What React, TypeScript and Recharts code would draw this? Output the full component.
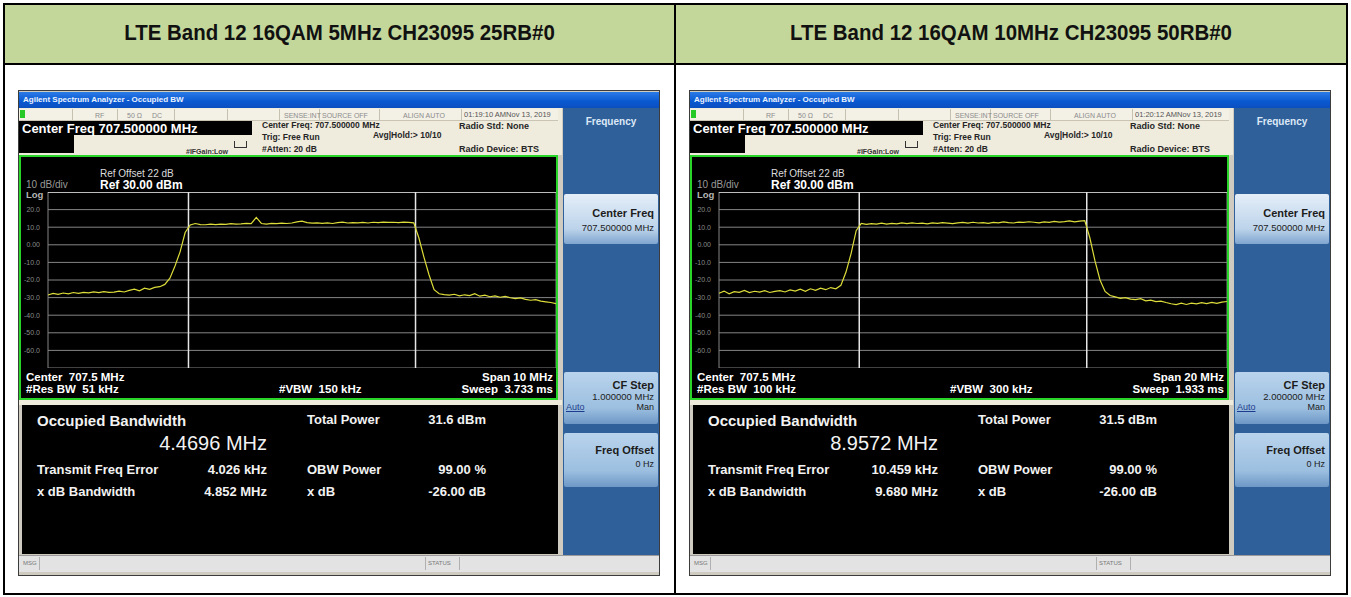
import React from "react";
import {
  LineChart,
  Line,
  XAxis,
  YAxis,
  CartesianGrid,
  ReferenceLine,
} from "recharts";

const headerTitles = [
  "LTE Band 12 16QAM 5MHz CH23095 25RB#0",
  "LTE Band 12 16QAM 10MHz CH23095 50RB#0",
];

// trace points, dBm, left edge to right edge of the span
const trace5MHz = [
  -28.5, -27.6, -28.2, -27.4, -27.9, -27.1, -27.6, -27.0, -27.3, -26.8,
  -27.2, -26.6, -27.0, -26.9, -26.3, -26.8, -25.9, -25.2, -26.1, -24.6,
  -25.3, -24.2, -23.8, -22.5, -19.0, -12.0, -4.0, 7.0, 11.3, 12.1,
  11.5, 11.4, 11.7, 11.5, 11.8, 11.6, 12.0, 11.7, 11.9, 12.2,
  12.0, 15.6, 12.1, 11.8, 12.2, 12.0, 12.3, 12.1, 12.4, 13.0,
  13.4, 12.6, 12.3, 12.5, 12.2, 12.4, 12.1, 12.6, 12.9, 12.4,
  12.6, 12.5, 12.7, 12.4, 12.8, 12.6, 12.9, 12.7, 12.8, 12.6,
  12.9, 12.7, 12.5, 4.0, -7.0, -17.0, -25.5, -27.8, -28.3, -28.6,
  -28.1, -29.0, -28.4, -28.9, -27.8, -29.2, -28.6, -29.5, -29.0, -29.8,
  -29.3, -30.1, -30.6, -30.2, -31.0, -31.5, -31.2, -32.0, -32.4, -32.8,
  -33.4,
];

const trace10MHz = [
  -27.5, -26.3, -27.8, -26.6, -27.0, -25.9, -27.2, -26.4, -26.9, -26.1,
  -27.1, -26.5, -26.0, -26.8, -25.6, -26.3, -25.2, -26.4, -25.0, -25.9,
  -24.6, -25.5, -24.3, -25.0, -23.0, -15.5, -5.0, 8.0, 12.1, 11.6,
  12.0, 11.8, 12.3, 11.7, 12.2, 11.9, 12.4, 12.0, 12.5, 12.1,
  12.3, 11.9, 12.4, 12.2, 12.6, 12.3, 12.0, 12.5, 12.7, 12.3,
  12.8, 12.4, 12.6, 12.2, 12.7, 12.5, 13.0, 12.6, 12.4, 12.9,
  12.7, 13.1, 12.8, 12.5, 13.0, 12.8, 13.3, 12.9, 13.2, 13.6,
  13.0, 13.4, 13.7, 4.0, -9.0, -20.0, -26.5, -28.8, -29.6, -30.4,
  -30.0, -30.9, -31.2, -30.6, -31.8, -31.4, -32.3, -32.0, -32.8, -33.5,
  -34.0, -33.2, -33.9, -33.1, -33.6, -32.9, -33.4, -32.7, -33.3, -32.6,
  -32.2,
];

const spansMHz = [10, 20];
const obwMHz = [4.4696, 8.9572];
const obwText = ["4.4696 MHz", "8.9572 MHz"];
const freqErrorText = ["4.026 kHz", "10.459 kHz"];
const xdbBandwidthText = ["4.852 MHz", "9.680 MHz"];
const totalPowerText = ["31.6 dBm", "31.5 dBm"];
const resBwText = ["#Res BW  51 kHz", "#Res BW  100 kHz"];
const vbwText = ["#VBW  150 kHz", "#VBW  300 kHz"];
const spanText = ["Span 10 MHz", "Span 20 MHz"];
const sweepText = ["Sweep  3.733 ms", "Sweep  1.933 ms"];
const cfStepText = ["1.000000 MHz", "2.000000 MHz"];
const clockText = ["01:19:10 AMNov 13, 2019", "01:20:12 AMNov 13, 2019"];

const xTicks = [0, 10, 20, 30, 40, 50, 60, 70, 80, 90, 100];
const yTicks = [30, 20, 10, 0, -10, -20, -30, -40, -50, -60, -70];

const FONT = "'Liberation Sans', Arial, sans-serif";

type TProps = {
  x: number;
  y: number;
  size: number;
  bold?: boolean;
  color?: string;
  right?: boolean;
  center?: boolean;
  underline?: boolean;
  children: React.ReactNode;
};

const T = ({ x, y, size, bold, color = "#fff", right, center, underline, children }: TProps) => {
  const style: React.CSSProperties = {
    position: "absolute",
    top: y - size / 2,
    fontSize: size,
    lineHeight: `${size}px`,
    fontWeight: bold ? "bold" : "normal",
    color,
    whiteSpace: "pre",
    fontFamily: FONT,
    textDecoration: underline ? "underline" : "none",
  };
  if (right) {
    style.right = 642 - x;
  } else if (center) {
    style.left = x - 60;
    style.width = 120;
    style.textAlign = "center";
  } else {
    style.left = x;
  }
  return <div style={style}>{children}</div>;
};

const box = (
  left: number,
  top: number,
  width: number,
  height: number,
  background: string,
  extra: React.CSSProperties = {}
): React.CSSProperties => ({
  position: "absolute",
  left,
  top,
  width,
  height,
  background,
  ...extra,
});

const Analyzer = ({ k }: { k: number }) => {
  const trace = k === 0 ? trace5MHz : trace10MHz;
  const data = trace.map((v, i) => ({ i, v }));
  const perIdx = 100 / spansMHz[k];
  const obwLo = 50 - (obwMHz[k] / 2) * perIdx;
  const obwHi = 50 + (obwMHz[k] / 2) * perIdx;
  const softBtn = "linear-gradient(#e4eef8, #bcd3ea 70%, #7fa5cf)";
  const softBtn2 = "linear-gradient(#b9d3ec, #9cbfe0 70%, #6d97c6)";
  const statusText = "#8c8c8c";
  const white = "#f2f2f2";

  return (
    <div style={box(0, 0, 642, 486, "#cfcbc0", { border: "1px solid #3c3c3c", boxSizing: "border-box", overflow: "hidden" })}>
      {/* title bar */}
      <div style={box(0, 1, 642, 16, "linear-gradient(#2a7be8, #0a58d0 60%, #0b4fbf)")} />
      <T x={4} y={9} size={8} bold color="#eaf2ff">Agilent Spectrum Analyzer - Occupied BW</T>

      {/* status row and measurement bar */}
      <div style={box(0, 17, 543, 47, "#efebdd")} />
      <div style={box(0, 18, 539, 11, "#f3f0e6", { borderBottom: "1px solid #c9c4b4" })} />
      <div style={box(1, 19, 5, 8, "#27c927")} />
      {[53, 98, 155, 208, 260, 300, 360, 442].map((sx) => (
        <div key={sx} style={box(sx, 18, 1, 11, "#c6c1b0")} />
      ))}
      <T x={76} y={24} size={7} color={statusText}>RF</T>
      <T x={108} y={24} size={7} color={statusText}>50 Ω</T>
      <T x={133} y={24} size={7} color={statusText}>DC</T>
      <T x={265} y={24} size={7} color={statusText}>SENSE:INT</T>
      <T x={303} y={24} size={7} color={statusText}>SOURCE OFF</T>
      <T x={384} y={24} size={7} color={statusText}>ALIGN AUTO</T>
      <T x={445} y={24} size={7.5} color="#555">{clockText[k]}</T>

      <div style={box(0, 30, 233, 14, "#000")} />
      <div style={box(0, 44, 55, 18, "#000")} />
      <T x={3} y={37} size={13} bold>Center Freq 707.500000 MHz</T>
      <T x={167} y={60} size={7} bold color="#333">#IFGain:Low</T>
      <div style={box(215, 50, 11, 6, "transparent", { border: "1px solid #333", borderTop: "none" })} />
      <T x={243} y={34} size={8.5} bold color="#262626">Center Freq: 707.500000 MHz</T>
      <T x={243} y={46} size={8.5} bold color="#262626">Trig: Free Run</T>
      <T x={243} y={58} size={8.5} bold color="#262626">#Atten: 20 dB</T>
      <T x={354} y={44} size={8.5} bold color="#262626">Avg|Hold:&gt; 10/10</T>
      <T x={440} y={35} size={9} bold color="#262626">Radio Std: None</T>
      <T x={440} y={58} size={9} bold color="#262626">Radio Device: BTS</T>

      {/* graticule area */}
      <div style={box(0, 64, 539, 245, "#000", { border: "2px solid #2ad52a", boxSizing: "border-box" })} />
      <T x={81} y={83} size={10} color="#dcdcdc">Ref Offset 22 dB</T>
      <T x={81} y={94} size={12} bold>Ref 30.00 dBm</T>
      <T x={7} y={94} size={10} color="#9a9a9a">10 dB/div</T>
      <T x={7} y={104} size={9.5} bold color="#b4b4b4">Log</T>
      <div style={{ position: "absolute", left: 3, top: 101 }}>
        <LineChart width={534} height={176} data={data} margin={{ top: 0, right: 0, bottom: 0, left: 0 }}>
          <CartesianGrid stroke="#858585" strokeWidth={1} />
          <XAxis
            dataKey="i"
            type="number"
            domain={[0, 100]}
            ticks={xTicks}
            tick={false}
            tickLine={false}
            axisLine={false}
            height={0}
          />
          <YAxis
            type="number"
            domain={[-70, 30]}
            ticks={yTicks}
            width={26}
            tickLine={false}
            axisLine={false}
            tickMargin={2}
            interval={0}
            tick={{ fontSize: 7, fill: "#8a8a8a", fontFamily: FONT }}
            tickFormatter={(v: number) => (v === 30 || v === -70 ? "" : v === 0 ? "0.00" : v.toFixed(1))}
          />
          <ReferenceLine y={30} stroke="#e6e6e6" strokeWidth={1.5} />
          <ReferenceLine x={obwLo} stroke="#e6e6e6" strokeWidth={1.5} />
          <ReferenceLine x={obwHi} stroke="#e6e6e6" strokeWidth={1.5} />
          <Line
            type="linear"
            dataKey="v"
            stroke="#dcdc3a"
            strokeWidth={1.2}
            dot={false}
            isAnimationActive={false}
          />
        </LineChart>
      </div>
      <T x={7} y={287} size={11.5} bold>Center  707.5 MHz</T>
      <T x={7} y={299} size={11.5} bold>{resBwText[k]}</T>
      <T x={260} y={299} size={11.5} bold>{vbwText[k]}</T>
      <T x={536} y={287} size={11.5} bold right>{spanText[k]}</T>
      <T x={536} y={299} size={11.5} bold right>{sweepText[k]}</T>

      {/* results */}
      <div style={box(0, 309, 543, 5, "#efebdd")} />
      <div style={box(3, 314, 536, 149, "#000")} />
      <T x={18} y={329} size={15} bold color={white}>Occupied Bandwidth</T>
      <T x={250} y={352} size={20} right color={white}>{obwText[k]}</T>
      <T x={18} y={378} size={13} bold color={white}>Transmit Freq Error</T>
      <T x={250} y={378} size={13} bold right color={white}>{freqErrorText[k]}</T>
      <T x={18} y={400} size={13} bold color={white}>x dB Bandwidth</T>
      <T x={250} y={400} size={13} bold right color={white}>{xdbBandwidthText[k]}</T>
      <T x={288} y={328} size={13} bold color={white}>Total Power</T>
      <T x={469} y={328} size={13} bold right color={white}>{totalPowerText[k]}</T>
      <T x={288} y={378} size={13} bold color={white}>OBW Power</T>
      <T x={469} y={378} size={13} bold right color={white}>99.00 %</T>
      <T x={288} y={400} size={13} bold color={white}>x dB</T>
      <T x={469} y={400} size={13} bold right color={white}>-26.00 dB</T>

      {/* softkeys */}
      <div style={box(544, 17, 96, 447, "#30609a")} />
      <T x={592} y={31} size={10} bold center color="#dde9f7">Frequency</T>
      <div style={box(545, 103, 94, 50, softBtn, { borderRadius: 2 })} />
      <T x={637} y={122} size={11} bold right color="#1c1c1c">Center Freq</T>
      <T x={637} y={137} size={9.5} right color="#1c1c1c">707.500000 MHz</T>
      <div style={box(545, 281, 94, 52, softBtn2, { borderRadius: 2 })} />
      <T x={637} y={294} size={11} bold right color="#1c1c1c">CF Step</T>
      <T x={637} y={306} size={9.5} right color="#1c1c1c">{cfStepText[k]}</T>
      <T x={547} y={316} size={9} underline color="#1d3b8c">Auto</T>
      <T x={637} y={316} size={9} right color="#1c1c1c">Man</T>
      <div style={box(545, 342, 94, 54, softBtn2, { borderRadius: 2 })} />
      <T x={637} y={359} size={11} bold right color="#1c1c1c">Freq Offset</T>
      <T x={637} y={373} size={9} right color="#1c1c1c">0 Hz</T>

      {/* message bar */}
      <div style={box(0, 464, 640, 17, "#e3e3e3", { borderTop: "1px solid #9a9a9a", boxSizing: "border-box" })} />
      <div style={box(20, 466, 1, 13, "#b0b0b0")} />
      <div style={box(406, 466, 1, 13, "#b0b0b0")} />
      <div style={box(440, 466, 1, 13, "#b0b0b0")} />
      <T x={4} y={472} size={6} color="#777">MSG</T>
      <T x={409} y={472} size={6} color="#777">STATUS</T>
    </div>
  );
};

const App = () => {
  return (
    <div style={{ position: "absolute", left: 0, top: 0, width: 1351, height: 597, background: "#fff", fontFamily: FONT }}>
      {/* table frame */}
      <div style={box(3, 3, 1345, 592, "transparent", { border: "2px solid #000", boxSizing: "border-box" })} />
      <div style={box(5, 5, 1341, 58, "#c4d79b")} />
      <div style={box(3, 63, 1345, 2, "#000")} />
      <div style={box(674, 3, 2, 592, "#000")} />
      {headerTitles.map((t, k) => (
        <div
          key={t}
          style={{
            position: "absolute",
            left: k === 0 ? 5 : 676,
            width: k === 0 ? 669 : 670,
            top: 22,
            fontSize: 22,
            lineHeight: "22px",
            fontWeight: "bold",
            textAlign: "center",
            color: "#111",
            transform: "scaleX(0.93)",
          }}
        >
          {t}
        </div>
      ))}
      <div style={{ position: "absolute", left: 18, top: 90 }}>
        <Analyzer k={0} />
      </div>
      <div style={{ position: "absolute", left: 689, top: 90 }}>
        <Analyzer k={1} />
      </div>
    </div>
  );
};

export default App;
